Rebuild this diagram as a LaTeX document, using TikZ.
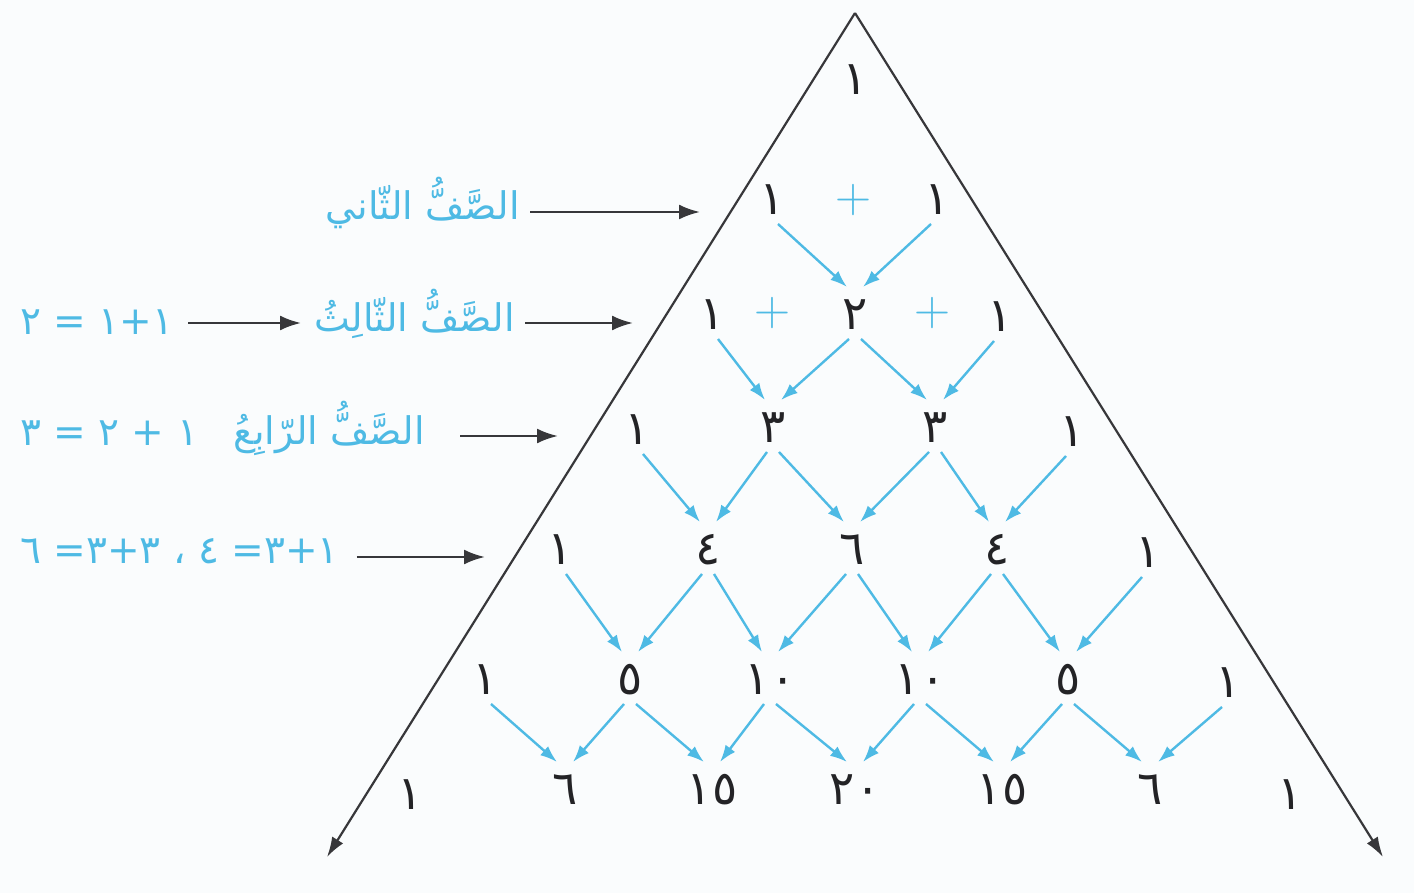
\documentclass[tikz,border=0pt]{standalone}
\usepackage{fontspec}
\usetikzlibrary{arrows.meta,calc}
\TeXXeTstate=1
\newfontfamily\arabicfont[Script=Arabic]{DejaVu Sans}
\definecolor{lblue}{RGB}{78,186,228}
\definecolor{dgray}{RGB}{55,55,58}
\definecolor{numc}{RGB}{35,35,38}
\definecolor{bgc}{RGB}{250,252,253}
\begin{document}
\begin{tikzpicture}[x=1pt,y=-1pt,
 num/.style={font=\arabicfont\fontsize{47}{50}\selectfont, text=numc, inner sep=0pt},
 plus/.style={font=\fontsize{50}{54}\selectfont, text=lblue, inner sep=0pt},
 lab/.style={font=\arabicfont\fontsize{38}{44}\selectfont, text=lblue, inner sep=0pt},
 eq/.style={font=\arabicfont\fontsize{39}{44}\selectfont, text=lblue, inner sep=0pt},
 barrow/.style={draw=lblue, line width=2.4pt, -{Latex[length=17pt,width=12pt]}},
 garrow/.style={draw=dgray, line width=2.6pt, -{Latex[length=21pt,width=15pt]}},
 side/.style={draw=dgray, line width=2.2pt, -{Latex[length=20pt,width=13pt]}},
]
\fill[bgc] (0,0) rectangle (1414,893);
\useasboundingbox (0,0) rectangle (1414,893);
% triangle
\coordinate (apex) at (855,13);
\coordinate (lend) at (327,857);
\coordinate (rend) at (1383,857);
\draw[side] (apex) -- (lend);
\draw[side] (apex) -- (rend);
% numbers
\node[num] (n-1-1) at (855,80) {١};
\node[num] (n-2-1) at (772,200) {١};
\node[num] (n-2-2) at (937,200) {١};
\node[num] (n-3-1) at (712,315) {١};
\node[num] (n-3-2) at (855,315) {٢};
\node[num] (n-3-3) at (1000,317) {١};
\node[num] (n-4-1) at (637,430) {١};
\node[num] (n-4-2) at (773,428) {٣};
\node[num] (n-4-3) at (935,428) {٣};
\node[num] (n-4-4) at (1072,432) {١};
\node[num] (n-5-1) at (560,550) {١};
\node[num] (n-5-2) at (708,550) {٤};
\node[num] (n-5-3) at (852,550) {٦};
\node[num] (n-5-4) at (997,550) {٤};
\node[num] (n-5-5) at (1148,553) {١};
\node[num] (n-6-1) at (485,680) {١};
\node[num] (n-6-2) at (630,680) {٥};
\node[num] (n-6-3) at (770,680) {١٠};
\node[num] (n-6-4) at (920,680) {١٠};
\node[num] (n-6-5) at (1068,680) {٥};
\node[num] (n-6-6) at (1228,683) {١};
\node[num] (n-7-1) at (410,795) {١};
\node[num] (n-7-2) at (565,790) {٦};
\node[num] (n-7-3) at (712,790) {١٥};
\node[num] (n-7-4) at (855,790) {٢٠};
\node[num] (n-7-5) at (1002,790) {١٥};
\node[num] (n-7-6) at (1150,790) {٦};
\node[num] (n-7-7) at (1290,795) {١};
% plus signs
\node[plus] (p1) at (853,200) {+};
\node[plus] (p2) at (772,313) {+};
\node[plus] (p3) at (932,313) {+};
% blue arrows
\foreach \r in {2,...,6}{
  \pgfmathtruncatemacro\rn{\r+1}
  \foreach \c in {1,...,\r}{
    \ifnum\c>1
      \draw[barrow] ([shift={(-6,24)}]n-\r-\c.center) -- ([shift={(8,-28)}]n-\rn-\c.center);
    \fi
    \ifnum\c<\r
      \pgfmathtruncatemacro\cn{\c+1}
      \draw[barrow] ([shift={(6,24)}]n-\r-\c.center) -- ([shift={(-8,-28)}]n-\rn-\cn.center);
    \fi
  }
}
% labels
\node[lab, anchor=base east] (lab2) at (520,220) {\beginR الصَّفُّ الثّاني\endR};
\node[lab, anchor=base east] (lab3) at (515,332) {\beginR الصَّفُّ الثّالِثُ\endR};
\node[lab, anchor=base east] (lab4) at (425,444) {\beginR الصَّفُّ الرّابِعُ\endR};
\node[eq, anchor=base west] (eq3) at (20,335) {\beginR ١+١ = ٢\endR};
\node[eq, anchor=base west] (eq4) at (20,445) {\beginR ١ + ٢ = ٣\endR};
\node[eq, anchor=base west] (eq5) at (20,563) {\beginR ١+٣= ٤ ، ٣+٣= ٦\endR};
% gray arrows
\coordinate (t2) at (700,212);
\coordinate (t3) at (633,323);
\coordinate (t4) at (558,436);
\coordinate (t5) at (485,557);
\draw[garrow] ($(lab2.east |- t2)+(10,0)$) -- (t2);
\draw[garrow] ($(eq3.east |- t3)+(15,0)$) -- ($(lab3.west |- t3)+(-13,0)$);
\draw[garrow] ($(lab3.east |- t3)+(10,0)$) -- (t3);
\draw[garrow] ($(lab4.east |- t4)+(35,0)$) -- (t4);
\draw[garrow] ($(eq5.east |- t5)+(18,0)$) -- (t5);
\end{tikzpicture}
\end{document}
